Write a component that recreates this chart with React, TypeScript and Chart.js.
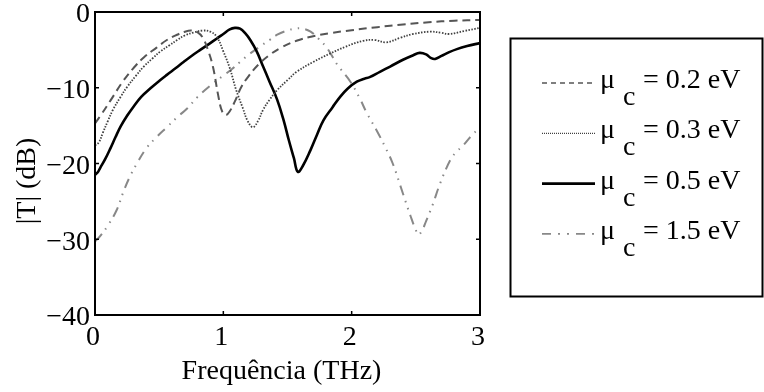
import React, { useEffect, useRef } from "react";
import { Chart, registerables } from "chart.js";
Chart.register(...registerables);

// ---- data (frequency in THz, |T| in dB) ----
const freqA = [0, 0.05, 0.12, 0.22, 0.3, 0.38, 0.48, 0.56, 0.64, 0.7, 0.75, 0.8, 0.84, 0.88, 0.92, 0.96, 0.99, 1.02, 1.05, 1.09, 1.14, 1.2, 1.27, 1.35, 1.45, 1.57, 1.7, 1.83, 2.0, 2.2, 2.4, 2.6, 2.8, 3.0];
const dbA = [-14.7, -13.5, -11.7, -9.1, -7.4, -6.0, -4.7, -3.7, -3.0, -2.6, -2.45, -2.7, -3.4, -5.0, -7.3, -11.0, -13.1, -13.6, -13.1, -11.8, -9.9, -8.4, -7.0, -5.8, -4.7, -3.8, -3.2, -2.8, -2.4, -2.0, -1.65, -1.35, -1.15, -1.05];

const freqB = [0, 0.03, 0.06, 0.1, 0.14, 0.2, 0.25, 0.32, 0.38, 0.45, 0.51, 0.58, 0.64, 0.7, 0.77, 0.84, 0.9, 0.95, 1.0, 1.05, 1.1, 1.15, 1.19, 1.23, 1.27, 1.31, 1.36, 1.42, 1.5, 1.57, 1.7, 1.83, 1.95, 2.09, 2.18, 2.27, 2.38, 2.48, 2.61, 2.7, 2.76, 2.88, 3.0];
const dbB = [-17.6, -17.2, -16, -14.4, -12.9, -11.2, -9.9, -8.4, -7.2, -6.1, -5.2, -4.4, -3.7, -3.1, -2.7, -2.45, -2.6, -3.3, -5.2, -7.4, -10.3, -12.6, -14.4, -15.2, -14.4, -12.9, -11.6, -10.3, -9.0, -7.9, -6.6, -5.5, -4.6, -3.8, -3.7, -4.0, -3.4, -2.9, -2.6, -2.75, -2.9, -2.5, -2.1];

const freqC = [0, 0.02, 0.04, 0.08, 0.12, 0.16, 0.2, 0.25, 0.3, 0.36, 0.43, 0.5, 0.56, 0.63, 0.69, 0.76, 0.82, 0.89, 0.95, 1.0, 1.05, 1.09, 1.13, 1.17, 1.21, 1.26, 1.31, 1.36, 1.42, 1.47, 1.51, 1.55, 1.58, 1.62, 1.68, 1.73, 1.78, 1.85, 1.91, 1.97, 2.04, 2.1, 2.14, 2.22, 2.3, 2.4, 2.48, 2.53, 2.58, 2.62, 2.65, 2.7, 2.76, 2.82, 2.9, 3.0];
const dbC = [-21.5, -21.2, -20.6, -19.4, -18.0, -16.5, -15.1, -13.7, -12.5, -11.2, -10.1, -9.1, -8.3, -7.4, -6.6, -5.7, -5.0, -4.2, -3.5, -2.9, -2.3, -2.1, -2.2, -2.8, -3.7, -5.2, -7.2, -9.2, -11.6, -14.3, -16.9, -19.3, -21.1, -20.3, -18.2, -16.2, -14.3, -12.6, -11.2, -10.1, -9.2, -8.8, -8.6, -7.9, -7.2, -6.3, -5.7, -5.4, -5.6, -6.1, -6.2, -5.8, -5.3, -4.9, -4.5, -4.1];

const freqD = [0, 0.04, 0.1, 0.17, 0.22, 0.27, 0.33, 0.4, 0.48, 0.56, 0.64, 0.72, 0.8, 0.9, 1.0, 1.07, 1.13, 1.2, 1.29, 1.36, 1.42, 1.49, 1.56, 1.62, 1.68, 1.74, 1.81, 1.89, 1.99, 2.06, 2.12, 2.2, 2.26, 2.32, 2.4, 2.46, 2.5, 2.52, 2.55, 2.58, 2.63, 2.69, 2.77, 2.82, 2.87, 2.93, 3.0];
const dbD = [-30.3, -29.6, -28.2, -26.1, -23.8, -21.8, -19.9, -18.0, -16.5, -15.2, -13.9, -12.7, -11.2, -9.7, -8.4, -7.5, -6.6, -5.6, -4.5, -3.7, -3.0, -2.5, -2.2, -2.2, -2.6, -3.5, -4.8, -7.0, -9.2, -11.3, -13.4, -15.8, -17.8, -20.0, -24.0, -27.0, -28.8, -29.4, -28.8, -27.6, -25.5, -22.6, -19.5, -18.4, -17.6, -16.4, -15.2];

const seriesLabels = ["0.2 eV", "0.3 eV", "0.5 eV", "1.5 eV"];
const xTicks = [0, 1, 2, 3];
const yTicks = [-40, -30, -20, -10, 0];
const xTitle = "Frequência (THz)";
const yTitle = "|T| (dB)";

const FONT = "'Liberation Serif', 'Times New Roman', serif";

const styles = [
  { color: "#555555", width: 2, dash: [8, 5], legendDash: [5, 4], legendWidth: 1.3 },
  { color: "#404040", width: 1.8, dash: [1.5, 1.5], legendDash: [1, 1], legendWidth: 1.3 },
  { color: "#000000", width: 2.6, dash: [] as number[], legendDash: [] as number[], legendWidth: 2.6 },
  { color: "#888888", width: 2, dash: [10, 6, 1.5, 6, 1.5, 6], legendDash: [9, 7, 2, 7, 2, 7], legendWidth: 1.6 },
];

function pts(xs: number[], ys: number[]) {
  return xs.map((x, i) => ({ x, y: ys[i] }));
}

const minus = (v: number) => (v < 0 ? "\u2212" + Math.abs(v) : String(v));

const framePlugin = {
  id: "frame",
  afterDraw(chart: any) {
    const ctx = chart.ctx as CanvasRenderingContext2D;
    const { left, right, top, bottom } = chart.chartArea;
    const xs = chart.scales.x;
    const ys = chart.scales.y;
    ctx.save();
    // axes box
    ctx.strokeStyle = "#000";
    ctx.lineWidth = 2;
    ctx.setLineDash([]);
    ctx.strokeRect(left, top, right - left, bottom - top);
    // inward ticks
    ctx.lineWidth = 1.5;
    const tl = 4;
    ctx.beginPath();
    xTicks.forEach((v) => {
      const px = xs.getPixelForValue(v);
      ctx.moveTo(px, bottom);
      ctx.lineTo(px, bottom - tl);
      ctx.moveTo(px, top);
      ctx.lineTo(px, top + tl);
    });
    yTicks.forEach((v) => {
      const py = ys.getPixelForValue(v);
      ctx.moveTo(left, py);
      ctx.lineTo(left + tl, py);
      ctx.moveTo(right, py);
      ctx.lineTo(right - tl, py);
    });
    ctx.stroke();

    // axis titles
    ctx.fillStyle = "#000";
    ctx.font = `28px ${FONT}`;
    ctx.textAlign = "center";
    ctx.textBaseline = "alphabetic";
    ctx.fillText(xTitle, (left + right) / 2 - 6, 379);
    ctx.save();
    ctx.translate(35, 181);
    ctx.rotate(-Math.PI / 2);
    ctx.fillText(yTitle, 0, 0);
    ctx.restore();

    // legend
    const bx = 510.5, by = 38.5, bw = 252, bh = 258;
    ctx.lineWidth = 2;
    ctx.strokeStyle = "#000";
    ctx.strokeRect(bx, by, bw, bh);
    seriesLabels.forEach((lab, i) => {
      const ly = 83 + i * 50.3;
      const st = styles[i];
      ctx.beginPath();
      ctx.strokeStyle = st.color;
      ctx.lineWidth = st.legendWidth;
      ctx.setLineDash(st.legendDash);
      ctx.moveTo(542, ly);
      ctx.lineTo(595, ly);
      ctx.stroke();
      ctx.setLineDash([]);
      ctx.fillStyle = "#000";
      ctx.font = `28px ${FONT}`;
      ctx.textAlign = "left";
      ctx.fillText("\u03bc", 600, ly + 5);
      ctx.fillText("c", 623, ly + 22);
      ctx.fillText("= " + lab, 643, ly + 5);
    });
    ctx.restore();
  },
};

export default function App() {
  const ref = useRef<HTMLCanvasElement | null>(null);
  useEffect(() => {
    if (!ref.current) return;
    const datasets = [
      pts(freqA, dbA),
      pts(freqB, dbB),
      pts(freqC, dbC),
      pts(freqD, dbD),
    ].map((d, i) => ({
      label: seriesLabels[i],
      data: d,
      borderColor: styles[i].color,
      borderWidth: styles[i].width,
      borderDash: styles[i].dash,
      pointRadius: 0,
      fill: false,
      tension: 0.4,
    }));
    const chart = new Chart(ref.current, {
      type: "line",
      data: { datasets },
      options: {
        animation: false,
        responsive: false,
        devicePixelRatio: 1,
        layout: { padding: { left: 0, right: 284, top: 12, bottom: 0 } },
        plugins: { legend: { display: false }, tooltip: { enabled: false } },
        scales: {
          x: {
            type: "linear",
            min: 0,
            max: 3,
            grid: { display: false, drawTicks: false },
            border: { display: false },
            ticks: {
              stepSize: 1,
              padding: 6,
              labelOffset: -2,
              color: "#000",
              font: { family: FONT, size: 28 },
              maxRotation: 0,
              callback: (v: any) => minus(Number(v)),
            },
            afterFit: (s: any) => {
              s.height = 77;
              s.paddingLeft = 0;
              s.paddingRight = 0;
            },
          },
          y: {
            type: "linear",
            min: -40,
            max: 0,
            grid: { display: false, drawTicks: false },
            border: { display: false },
            ticks: {
              stepSize: 10,
              padding: 5,
              labelOffset: 3,
              color: "#000",
              font: { family: FONT, size: 28 },
              callback: (v: any) => minus(Number(v)),
            },
            afterFit: (s: any) => {
              s.width = 95;
              s.paddingTop = 0;
              s.paddingBottom = 0;
            },
          },
        },
      },
      plugins: [framePlugin],
    });
    return () => chart.destroy();
  }, []);
  return (
    <div style={{ position: "absolute", left: 0, top: 0, width: 764, height: 392, background: "#fff" }}>
      <canvas ref={ref} width={764} height={392} style={{ width: 764, height: 392, display: "block" }} />
    </div>
  );
}
